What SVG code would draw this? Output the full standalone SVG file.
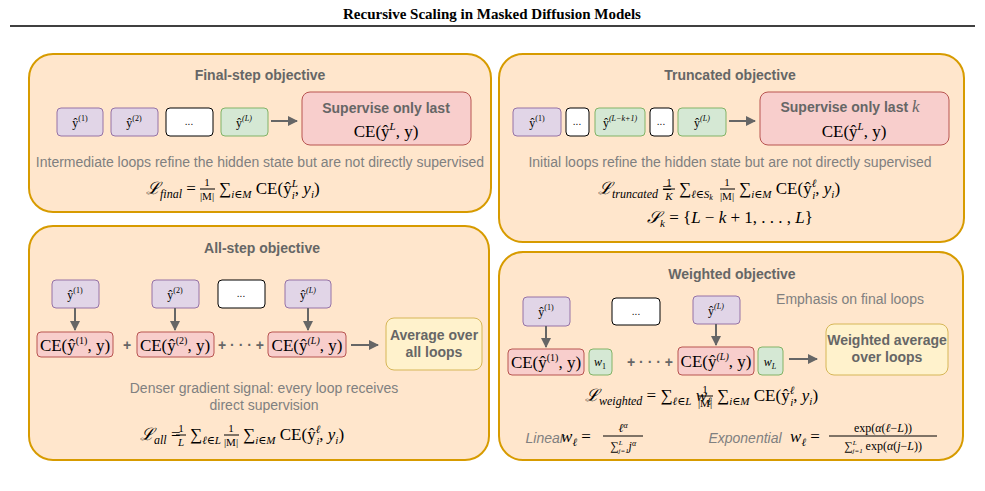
<svg xmlns="http://www.w3.org/2000/svg" width="985" height="491" viewBox="0 0 985 491">
<style>
.panel{fill:#ffe6cc;stroke:#d79b00;stroke-width:2}
.pu{fill:#e1d5e7;stroke:#9673a6}
.gr{fill:#d5e8d4;stroke:#82b366}
.wh{fill:#fff;stroke:#000}
.rd{fill:#f8cecc;stroke:#b85450}
.ye{fill:#fff2cc;stroke:#d6b656}
.t{font-family:"Liberation Sans",Arial,sans-serif;fill:#666;font-weight:bold;font-size:14px;text-anchor:middle}
.g{font-family:"Liberation Sans",Arial,sans-serif;fill:#808080;font-size:14px;text-anchor:middle}
.m{font-family:"Liberation Serif","DejaVu Serif",serif;fill:#000;font-size:17px;text-anchor:middle}
.f{font-family:"Liberation Serif","DejaVu Serif",serif;fill:#000;font-size:17px;text-anchor:start}
.fr{font-family:"Liberation Serif","DejaVu Serif",serif;fill:#000;font-size:11px;text-anchor:middle}
.s{font-family:"Liberation Serif","DejaVu Serif",serif;fill:#000;font-size:12px;text-anchor:middle}
.d{font-family:"Liberation Sans",Arial,sans-serif;fill:#000;font-size:10px;text-anchor:middle}
.fl{stroke:#000;stroke-width:1}
.c line{stroke:#666;stroke-width:2;marker-end:url(#a)}
</style>
<defs><marker id="a" viewBox="0 0 10 10" refX="9" refY="5" markerWidth="5" markerHeight="5" orient="auto"><path d="M0 0L10 5L0 10z" fill="#666"/></marker></defs>
<rect width="985" height="491" fill="#fff"/>
<text x="492" y="19" font-family="Liberation Serif,serif" font-weight="bold" font-size="15" text-anchor="middle">Recursive Scaling in Masked Diffusion Models</text>
<line x1="10" y1="26" x2="975" y2="26" stroke="#000" stroke-width="1.5"/>

<g id="final">
<rect class="panel" x="29" y="54" width="462" height="158" rx="24"/>
<text class="t" x="260" y="80">Final-step objective</text>
<rect class="pu" x="57" y="108" width="46" height="28" rx="4"/><text class="s" x="80" y="127">ŷ<tspan font-size="8" dy="-6">(1)</tspan></text>
<rect class="pu" x="111" y="108" width="47" height="28" rx="4"/><text class="s" x="134" y="127">ŷ<tspan font-size="8" dy="-6">(2)</tspan></text>
<rect class="wh" x="166" y="108" width="47" height="28" rx="4"/><text class="d" x="189" y="125">...</text>
<rect class="gr" x="221" y="108" width="47" height="28" rx="4"/><text class="s" x="244" y="127">ŷ<tspan font-size="8" dy="-6" font-style="italic">(L)</tspan></text>
<rect class="rd" x="302" y="92" width="169" height="53" rx="8"/>
<text class="t" x="386" y="113">Supervise only last</text>
<text class="m" x="386" y="137">CE(ŷ<tspan font-size="11" dy="-7" font-style="italic">L</tspan><tspan dy="7">, y)</tspan></text>
<text class="g" x="260" y="167">Intermediate loops refine the hidden state but are not directly supervised</text>
<text class="f" x="146" y="194"><tspan font-style="italic">ℒ</tspan><tspan font-size="12" font-style="italic" dy="4">final</tspan><tspan dy="-4"> =</tspan></text>
<text class="fr" x="207" y="186">1</text><line class="fl" x1="200" y1="189" x2="215" y2="189"/><text class="fr" x="207" y="200">|M|</text>
<text class="f" x="219" y="194">∑<tspan font-size="11" font-style="italic" dy="4">i∈M</tspan><tspan dy="-4"> CE(ŷ</tspan><tspan font-size="11" font-style="italic" dy="-7">L</tspan><tspan font-size="11" font-style="italic" dx="-6" dy="12">i</tspan><tspan dy="-5">, </tspan><tspan font-style="italic">y</tspan><tspan font-size="11" font-style="italic" dy="4">i</tspan><tspan dy="-4">)</tspan></text>
</g>

<g id="truncated">
<rect class="panel" x="499" y="54" width="465" height="188" rx="24"/>
<text class="t" x="730" y="80">Truncated objective</text>
<rect class="pu" x="513" y="108" width="48" height="28" rx="4"/><text class="s" x="537" y="127">ŷ<tspan font-size="8" dy="-6">(1)</tspan></text>
<rect class="wh" x="566" y="108" width="23" height="28" rx="4"/><text class="d" x="577" y="125">...</text>
<rect class="gr" x="595" y="108" width="50" height="28" rx="4"/><text class="s" x="620" y="127">ŷ<tspan font-size="8" dy="-6" font-style="italic">(L−k+1)</tspan></text>
<rect class="wh" x="650" y="108" width="23" height="28" rx="4"/><text class="d" x="661" y="125">...</text>
<rect class="gr" x="678" y="108" width="48" height="28" rx="4"/><text class="s" x="702" y="127">ŷ<tspan font-size="8" dy="-6" font-style="italic">(L)</tspan></text>
<rect class="rd" x="760" y="92" width="189" height="53" rx="8"/>
<text class="t" x="850" y="112">Supervise only last <tspan font-family="Liberation Serif,serif" font-style="italic" font-weight="normal" font-size="17">k</tspan></text>
<text class="m" x="854" y="137">CE(ŷ<tspan font-size="11" dy="-7" font-style="italic">L</tspan><tspan dy="7">, y)</tspan></text>
<text class="g" x="730" y="167">Initial loops refine the hidden state but are not directly supervised</text>
<text class="f" x="598" y="194"><tspan font-style="italic">ℒ</tspan><tspan font-size="12" font-style="italic" dy="4">truncated</tspan><tspan dy="-4"> =</tspan></text>
<text class="fr" x="669" y="186">1</text><line class="fl" x1="663" y1="189" x2="675" y2="189"/><text class="fr" x="669" y="200" font-style="italic">K</text>
<text class="f" x="679" y="194">∑<tspan font-size="11" font-style="italic" dy="4">ℓ∈S</tspan><tspan font-size="8" font-style="italic" dy="2">k</tspan></text>
<text class="fr" x="727" y="186">1</text><line class="fl" x1="720" y1="189" x2="735" y2="189"/><text class="fr" x="727" y="200">|M|</text>
<text class="f" x="739" y="194">∑<tspan font-size="11" font-style="italic" dy="4">i∈M</tspan><tspan dy="-4"> CE(ŷ</tspan><tspan font-size="11" font-style="italic" dy="-7">ℓ</tspan><tspan font-size="11" font-style="italic" dx="-4" dy="12">i</tspan><tspan dy="-5">, </tspan><tspan font-style="italic">y</tspan><tspan font-size="11" font-style="italic" dy="4">i</tspan><tspan dy="-4">)</tspan></text>
<text class="m" x="730" y="223"><tspan font-style="italic">𝒮</tspan><tspan font-size="11" font-style="italic" dy="4">k</tspan><tspan dy="-4"> = {</tspan><tspan font-style="italic">L</tspan> − <tspan font-style="italic">k</tspan> + 1, . . . , <tspan font-style="italic">L</tspan>}</text>
</g>

<g id="allstep">
<rect class="panel" x="29" y="226" width="460" height="234" rx="24"/>
<text class="t" x="262" y="253">All-step objective</text>
<rect class="pu" x="52" y="280" width="47" height="28" rx="4"/><text class="s" x="75" y="299">ŷ<tspan font-size="8" dy="-6">(1)</tspan></text>
<rect class="pu" x="152" y="280" width="47" height="28" rx="4"/><text class="s" x="175" y="299">ŷ<tspan font-size="8" dy="-6">(2)</tspan></text>
<rect class="wh" x="218" y="280" width="47" height="28" rx="4"/><text class="d" x="241" y="297">...</text>
<rect class="pu" x="285" y="280" width="46" height="28" rx="4"/><text class="s" x="308" y="299">ŷ<tspan font-size="8" dy="-6" font-style="italic">(L)</tspan></text>
<rect class="rd" x="37" y="332" width="76" height="25" rx="4"/><text class="m" x="75" y="351">CE(ŷ<tspan font-size="10" dy="-7">(1)</tspan><tspan dy="7">, y)</tspan></text>
<rect class="rd" x="137" y="332" width="77" height="25" rx="4"/><text class="m" x="175" y="351">CE(ŷ<tspan font-size="10" dy="-7">(2)</tspan><tspan dy="7">, y)</tspan></text>
<rect class="rd" x="268" y="332" width="78" height="25" rx="4"/><text class="m" x="307" y="351">CE(ŷ<tspan font-size="10" dy="-7" font-style="italic">(L)</tspan><tspan dy="7">, y)</tspan></text>
<text class="t" x="127" y="350">+</text>
<text class="t" x="241" y="350">+ · · · +</text>
<rect class="ye" x="386" y="318" width="96" height="52" rx="8"/>
<text class="t" x="434" y="340" font-size="13">Average over</text>
<text class="t" x="434" y="357" font-size="13">all loops</text>
<text class="g" x="264" y="393">Denser gradient signal: every loop receives</text>
<text class="g" x="264" y="410">direct supervision</text>
<text class="f" x="140" y="440"><tspan font-style="italic">ℒ</tspan><tspan font-size="12" font-style="italic" dy="4">all</tspan><tspan dy="-4"> =</tspan></text>
<text class="fr" x="181" y="432">1</text><line class="fl" x1="176" y1="435" x2="186" y2="435"/><text class="fr" x="181" y="446" font-style="italic">L</text>
<text class="f" x="190" y="440">∑<tspan font-size="11" font-style="italic" dy="4">ℓ∈L</tspan></text>
<text class="fr" x="231" y="432">1</text><line class="fl" x1="224" y1="435" x2="239" y2="435"/><text class="fr" x="231" y="446">|M|</text>
<text class="f" x="243" y="440">∑<tspan font-size="11" font-style="italic" dy="4">i∈M</tspan><tspan dy="-4"> CE(ŷ</tspan><tspan font-size="11" font-style="italic" dy="-7">ℓ</tspan><tspan font-size="11" font-style="italic" dx="-4" dy="12">i</tspan><tspan dy="-5">, </tspan><tspan font-style="italic">y</tspan><tspan font-size="11" font-style="italic" dy="4">i</tspan><tspan dy="-4">)</tspan></text>
</g>

<g id="weighted">
<rect class="panel" x="499" y="252" width="464" height="208" rx="24"/>
<text class="t" x="732" y="279">Weighted objective</text>
<text class="g" x="850" y="304">Emphasis on final loops</text>
<rect class="pu" x="523" y="297" width="47" height="29" rx="4"/><text class="s" x="546" y="316">ŷ<tspan font-size="8" dy="-6">(1)</tspan></text>
<rect class="wh" x="612" y="298" width="48" height="27" rx="4"/><text class="d" x="636" y="315">...</text>
<rect class="pu" x="693" y="296" width="47" height="28" rx="4"/><text class="s" x="716" y="315">ŷ<tspan font-size="8" dy="-6" font-style="italic">(L)</tspan></text>
<rect class="rd" x="508" y="349" width="76" height="26" rx="4"/><text class="m" x="546" y="368">CE(ŷ<tspan font-size="10" dy="-7">(1)</tspan><tspan dy="7">, y)</tspan></text>
<rect class="gr" x="589" y="349" width="23" height="26" rx="4"/><text class="s" x="600" y="366" font-style="italic">w<tspan font-size="8" dy="3" font-style="normal">1</tspan></text>
<text class="t" x="650" y="367">+ · · · +</text>
<rect class="rd" x="678" y="347" width="76" height="28" rx="4"/><text class="m" x="716" y="367">CE(ŷ<tspan font-size="10" dy="-7" font-style="italic">(L)</tspan><tspan dy="7">, y)</tspan></text>
<rect class="gr" x="758" y="347" width="25" height="28" rx="4"/><text class="s" x="770" y="366" font-style="italic">w<tspan font-size="8" dy="3">L</tspan></text>
<rect class="ye" x="826" y="324" width="122" height="51" rx="8"/>
<text class="t" x="887" y="345" font-size="13">Weighted average</text>
<text class="t" x="887" y="362" font-size="13">over loops</text>
<text class="f" x="585" y="401"><tspan font-style="italic">ℒ</tspan><tspan font-size="12" font-style="italic" dy="4">weighted</tspan><tspan dy="-4"> = ∑</tspan><tspan font-size="11" font-style="italic" dy="4">ℓ∈L</tspan><tspan font-style="italic" dy="-4"> w</tspan><tspan font-size="11" font-style="italic" dy="4">ℓ</tspan></text>
<text class="fr" x="705" y="393">1</text><line class="fl" x1="698" y1="396" x2="713" y2="396"/><text class="fr" x="705" y="407">|M|</text>
<text class="f" x="717" y="401">∑<tspan font-size="11" font-style="italic" dy="4">i∈M</tspan><tspan dy="-4"> CE(ŷ</tspan><tspan font-size="11" font-style="italic" dy="-7">ℓ</tspan><tspan font-size="11" font-style="italic" dx="-4" dy="12">i</tspan><tspan dy="-5">, </tspan><tspan font-style="italic">y</tspan><tspan font-size="11" font-style="italic" dy="4">i</tspan><tspan dy="-4">)</tspan></text>
<text class="g" x="545" y="443" font-style="italic" font-weight="normal">Linear</text>
<text class="m" x="576" y="442" font-style="italic" text-anchor="start">w<tspan font-size="11" dy="4">ℓ</tspan><tspan dy="-4" font-style="normal"> =</tspan></text>
<text class="s" x="623" y="432" font-style="italic" font-size="11">ℓ<tspan font-size="8" dy="-4">α</tspan></text>
<line x1="603" y1="436" x2="643" y2="436" stroke="#000" stroke-width="1"/>
<text class="s" x="623" y="450" font-size="11">∑<tspan font-size="7" font-style="italic" dy="3">j=1</tspan><tspan font-size="7" font-style="italic" dx="-10" dy="-8">L</tspan><tspan font-style="italic" dx="6" dy="5">j</tspan><tspan font-size="8" font-style="italic" dy="-4">α</tspan></text>
<text class="g" x="745" y="443" font-style="italic" font-weight="normal">Exponential</text>
<text class="m" x="805" y="442" font-style="italic" text-anchor="start">w<tspan font-size="11" dy="4">ℓ</tspan><tspan dy="-4" font-style="normal"> =</tspan></text>
<text class="s" x="883" y="432" font-size="11">exp(<tspan font-style="italic">α</tspan>(<tspan font-style="italic">ℓ</tspan>−<tspan font-style="italic">L</tspan>))</text>
<line x1="829" y1="436" x2="937" y2="436" stroke="#000" stroke-width="1"/>
<text class="s" x="883" y="450" font-size="11">∑<tspan font-size="7" font-style="italic" dy="3">j=1</tspan><tspan font-size="7" font-style="italic" dx="-10" dy="-8">L</tspan><tspan dx="6" dy="5"> exp(</tspan><tspan font-style="italic">α</tspan>(<tspan font-style="italic">j</tspan>−<tspan font-style="italic">L</tspan>))</text>
</g>

<g id="connectors" class="c">
<line x1="271" y1="121" x2="297" y2="121"/>
<line x1="729" y1="121" x2="755" y2="121"/>
<line x1="75" y1="308" x2="75" y2="330"/>
<line x1="175" y1="308" x2="175" y2="330"/>
<line x1="308" y1="308" x2="308" y2="330"/>
<line x1="351" y1="345" x2="378" y2="345"/>
<line x1="546" y1="326" x2="546" y2="347"/>
<line x1="716" y1="324" x2="716" y2="345"/>
<line x1="789" y1="359" x2="817" y2="359"/>
</g>
</svg>
